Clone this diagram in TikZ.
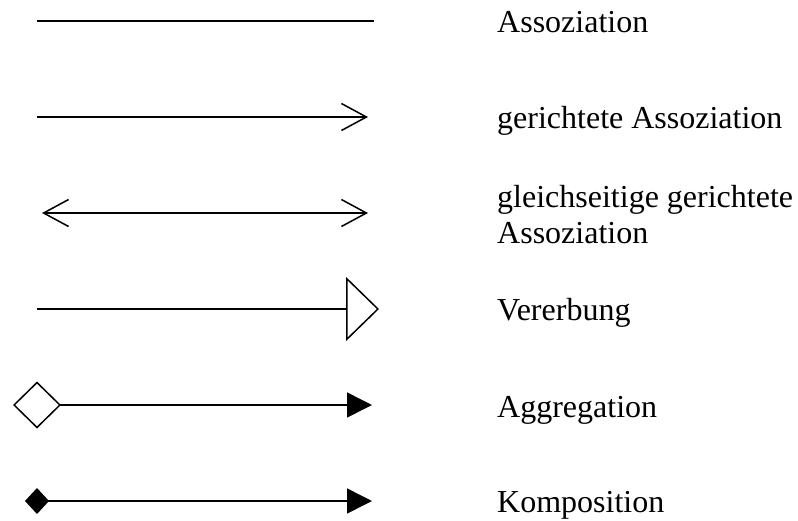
\documentclass[tikz,border=0pt]{standalone}
\usepackage{fontspec}
\setmainfont{Liberation Serif}
\usetikzlibrary{arrows.meta}
\tikzset{
  conn/.style={line width=1.5pt, black},
  legend/.style={anchor=base west, inner sep=0pt, font=\fontsize{32}{36}\selectfont},
  openhead/.tip={Straight Barb[length=25pt,width=27pt]},
  inherit/.tip={Triangle[open,length=33pt,width=64pt,fill=white]},
  solidhead/.tip={Triangle[length=25pt,width=25pt]},
  aggr/.tip={Diamond[open,length=48pt,width=47pt,fill=white]},
  comp/.tip={Diamond[length=24pt,width=26pt]}
}
\begin{document}
\begin{tikzpicture}[x=1pt,y=-1pt]
  \useasboundingbox (0,0) rectangle (798,520);

  % end points of the connectors
  \coordinate (a1) at (37,21);   \coordinate (b1) at (374,21);
  \coordinate (a2) at (37,117);  \coordinate (b2) at (368,117);
  \coordinate (a3) at (42,213);  \coordinate (b3) at (368,213);
  \coordinate (a4) at (37,309);  \coordinate (b4) at (379,309);
  \coordinate (a5) at (13,405);  \coordinate (b5) at (372,405);
  \coordinate (a6) at (25,501);  \coordinate (b6) at (372,501);

  % connectors
  \draw[conn] (a1) -- (b1);
  \draw[conn, -{openhead}] (a2) -- (b2);
  \draw[conn, {openhead}-{openhead}] (a3) -- (b3);
  \draw[conn, -{inherit}] (a4) -- (b4);
  \draw[conn, {aggr}-{solidhead}] (a5) -- (b5);
  \draw[conn, {comp}-{solidhead}] (a6) -- (b6);

  % labels
  \node[legend] (t1) at (497,32) {Assoziation};
  \node[legend] (t2) at (497,128) {gerichtete Assoziation};
  \node[legend] (t3) at (497,207) {gleichseitige gerichtete};
  \node[legend] (t3b) at (497,243) {Assoziation};
  \node[legend] (t4) at (497,320) {Vererbung};
  \node[legend] (t5) at (497,417) {Aggregation};
  \node[legend] (t6) at (497,512) {Komposition};
\end{tikzpicture}
\end{document}
